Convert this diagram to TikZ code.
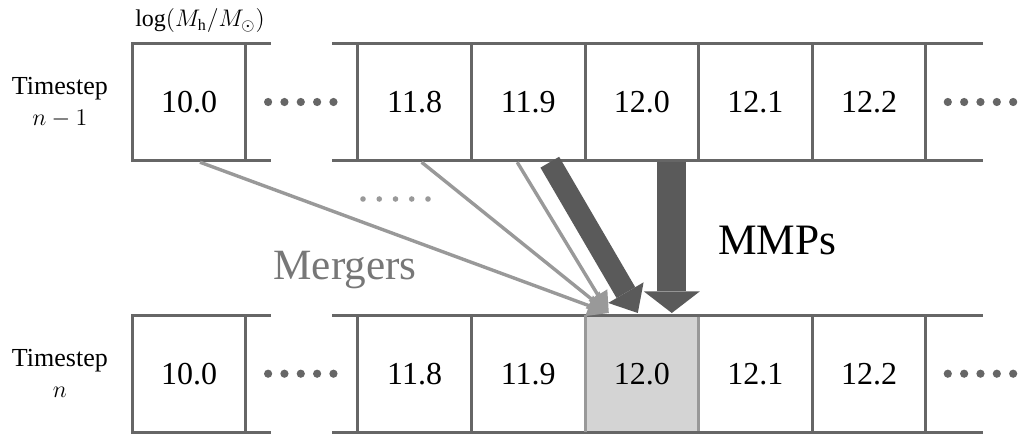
\documentclass[tikz,border=0pt]{standalone}
\usepackage{fontspec}
\setmainfont{Liberation Serif}
\usetikzlibrary{arrows.meta}
\usetikzlibrary{positioning}
\definecolor{boxgray}{HTML}{666666}
\definecolor{mmpgray}{HTML}{5A5A5A}
\definecolor{mergegray}{HTML}{999999}
\definecolor{labelgray}{HTML}{777777}
\definecolor{shadegray}{HTML}{D4D4D4}
\tikzset{massbin/.style = {draw=boxgray, line width=1.5pt,
                           minimum width=56.8pt, minimum height=58.7pt,
                           inner sep=0pt, outer sep=0pt,
                           font=\fontsize{16}{19}\selectfont}}
\tikzset{rowlabel/.style = {align=center, inner sep=0pt,
                            font=\fontsize{13}{15.5}\selectfont}}
\tikzset{stub/.style = {draw=boxgray, line width=1.5pt}}
\tikzset{merger/.style = {draw=mergegray, line width=1.7pt,
                          -{Triangle[width=11pt,length=10.5pt,line width=0pt]}}}
\tikzset{mmpthin/.style = {draw=mmpgray, line width=10.8pt,
                           -{Triangle[width=20.5pt,length=11.8pt,line width=0pt]}}}
\tikzset{mmpthick/.style = {draw=mmpgray, line width=14.5pt,
                            -{Triangle[width=28pt,length=10.8pt,line width=0pt]}}}

\begin{document}
\begin{tikzpicture}[x=0.5pt, y=-0.5pt]
	\useasboundingbox (0,0) rectangle (1022,434);
	% timestep n-1
	\node [massbin] (p100) at (189,102) {10.0};
	\node [massbin, right=56pt of p100] (p118) {11.8};
	\node [massbin, right=0pt of p118] (p119) {11.9};
	\node [massbin, right=0pt of p119] (p120) {12.0};
	\node [massbin, right=0pt of p120] (p121) {12.1};
	\node [massbin, right=0pt of p121] (p122) {12.2};
	% timestep n
	\node [massbin, below=77.15pt of p100] (c100) {10.0};
	\node [massbin, right=56pt of c100] (c118) {11.8};
	\node [massbin, right=0pt of c118] (c119) {11.9};
	\node [massbin, right=0pt of c119, fill=shadegray] (c120) {12.0};
	\node [massbin, right=0pt of c120] (c121) {12.1};
	\node [massbin, right=0pt of c121] (c122) {12.2};
	\draw [mergegray, line width=1.5pt, shorten <=0.75pt, shorten >=0.75pt]
		(c120.north west) -- (c120.south west) (c120.north east) -- (c120.south east);
	\foreach \row in {p,c} {
		\draw [stub] (\row100.north east) -- ++(24.7,0);
		\draw [stub] (\row100.south east) -- ++(24.7,0);
		\draw [stub] (\row118.north west) -- ++(-26.3,0);
		\draw [stub] (\row118.south west) -- ++(-26.3,0);
		\draw [stub] (\row122.north east) -- ++(57,0);
		\draw [stub] (\row122.south east) -- ++(57,0);
		\foreach \i in {0,...,4} {
			\fill [boxgray] ([xshift=11.15pt+8.17pt*\i]\row100.east) circle [radius=2.05pt];
			\fill [boxgray] ([xshift=11pt+8.17pt*\i]\row122.east) circle [radius=2.05pt];
		}
	}
	\node [rowlabel, left=12pt of p100] (tprev) {Timestep\\$n-1$};
	\node [rowlabel, left=12pt of c100] (tcur) {Timestep\\$n$};
	\node [rowlabel, above=5pt of p100, xshift=5.5pt, font=\fontsize{12}{14}\selectfont] (mass)
		{$\log(M_\mathrm{h}/M_\odot)$};
	% mergers
	\coordinate (tgt) at ([xshift=-16.5pt,yshift=1pt]c120.north);
	\draw [merger] ([xshift=5.5pt,yshift=-0.75pt]p100.south) -- (tgt);
	\draw [merger] ([xshift=3.5pt,yshift=-0.75pt]p118.south) -- (tgt);
	\draw [merger] ([xshift=-5.5pt,yshift=-0.75pt]p119.south) -- (tgt);
	\foreach \i in {0,...,4}
		\fill [mergegray] (363+16.25*\i,199) circle [radius=1.4pt];
	\node [text=labelgray, font=\fontsize{21.6}{26}\selectfont] (mergers) at (345,270) {Mergers};
	% main progenitors
	\draw [mmpthin] ([xshift=10.8pt,yshift=-0.75pt]p119.south) -- ([xshift=-2pt,yshift=1pt]c120.north);
	\draw [mmpthick] ([xshift=15pt,yshift=-0.75pt]p120.south) --
		node [right=16pt, yshift=-1.5pt, inner sep=0pt, font=\fontsize{21.7}{26}\selectfont] (mmps) {MMPs}
		([xshift=15pt,yshift=1pt]c120.north);
\end{tikzpicture}
\end{document}
